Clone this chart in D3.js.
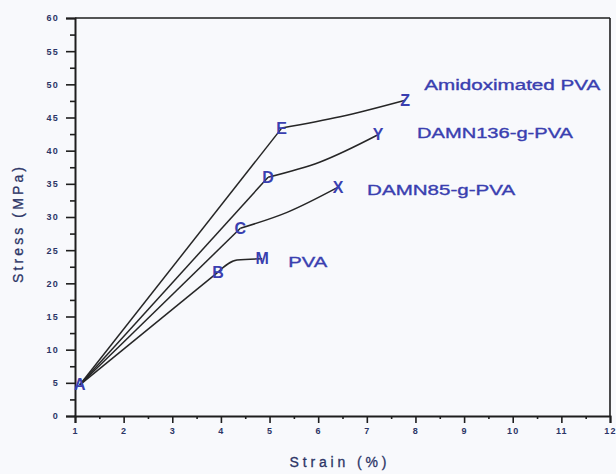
<!DOCTYPE html>
<html><head><meta charset="utf-8">
<script src="https://cdn.jsdelivr.net/npm/d3@7"></script>
<style>
html,body{margin:0;padding:0;background:#f8f9fc;}
svg{display:block;font-family:"Liberation Sans",Arial,sans-serif;}
</style></head>
<body>
<svg id="chart" width="616" height="474"></svg>
<script>
// ---- data ----
const seriesNames = ["PVA", "DAMN85-g-PVA", "DAMN136-g-PVA", "Amidoximated PVA"];
const pvaStrain      = [1.1, 3.94, 4.33, 4.85];
const pvaStress      = [4.7, 21.7, 23.5, 23.7];
const pvaPoints      = ["A", "B", "", "M"];
const damn85Strain   = [1.1, 4.40, 5.36, 6.41];
const damn85Stress   = [4.7, 28.3, 30.7, 34.5];
const damn85Points   = ["", "C", "", "X"];
const damn136Strain  = [1.1, 4.97, 6.04, 7.23];
const damn136Stress  = [4.7, 36.0, 38.3, 42.4];
const damn136Points  = ["", "D", "", "Y"];
const amidoxStrain   = [1.1, 5.25, 6.45, 7.79];
const amidoxStress   = [4.7, 43.4, 45.1, 47.6];
const amidoxPoints   = ["", "E", "", "Z"];
const xTicks = [1,2,3,4,5,6,7,8,9,10,11,12];
const yTicks = [0,5,10,15,20,25,30,35,40,45,50,55,60];
const xTitle = "Strain  (%)";
const yTitle = "Stress (MPa)";

const series = [
  {name: seriesNames[0], x: pvaStrain, y: pvaStress, p: pvaPoints, lab: {dx: 26, dy: 3, w: 39}},
  {name: seriesNames[1], x: damn85Strain, y: damn85Stress, p: damn85Points, lab: {dx: 29, dy: 3, w: 148}},
  {name: seriesNames[2], x: damn136Strain, y: damn136Stress, p: damn136Points, lab: {dx: 39, dy: -2, w: 156}},
  {name: seriesNames[3], x: amidoxStrain, y: amidoxStress, p: amidoxPoints, lab: {dx: 19, dy: -15, w: 176}}
];

const svg = d3.select("#chart");
const L = 75, R = 610, T = 18, B = 416;
const x = d3.scaleLinear().domain([1, 12]).range([L, R]);
const y = d3.scaleLinear().domain([0, 60]).range([B, T]);

const axisColor = "#1e1e1e";
const tickText = "#2c3566";
const blue = "#3a3fb0";

// frame top and right
svg.append("line").attr("x1", L).attr("x2", R).attr("y1", T).attr("y2", T)
  .attr("stroke", axisColor).attr("stroke-width", 1.6);
svg.append("line").attr("x1", R).attr("x2", R).attr("y1", T).attr("y2", B)
  .attr("stroke", axisColor).attr("stroke-width", 1.6);

// y axis
const yAxis = d3.axisLeft(y).tickValues(yTicks).tickSize(9).tickPadding(7).tickFormat(d3.format("d"));
const gy = svg.append("g").attr("transform", `translate(${L},0)`).call(yAxis);
gy.select(".domain").attr("stroke", axisColor).attr("stroke-width", 2);
gy.selectAll(".tick line").attr("stroke", axisColor).attr("stroke-width", 1.6);
gy.selectAll(".tick text").attr("fill", tickText).attr("font-size", 9).attr("font-weight", "bold")
  .attr("letter-spacing", 1.2);
const yMinor = d3.axisLeft(y).tickValues(d3.range(2.5, 60, 5)).tickSize(5).tickFormat("");
const gym = svg.append("g").attr("transform", `translate(${L},0)`).call(yMinor);
gym.select(".domain").remove();
gym.selectAll(".tick line").attr("stroke", axisColor).attr("stroke-width", 1.6);

// x axis
const xAxis = d3.axisBottom(x).tickValues(xTicks).tickSize(7).tickPadding(5).tickFormat(d3.format("d"));
const gx = svg.append("g").attr("transform", `translate(0,${B})`).call(xAxis);
gx.select(".domain").attr("stroke", axisColor).attr("stroke-width", 2);
gx.selectAll(".tick line").attr("stroke", axisColor).attr("stroke-width", 1.6);
gx.selectAll(".tick text").attr("fill", tickText).attr("font-size", 9).attr("font-weight", "bold")
  .attr("letter-spacing", 1.2);
const xMinor = d3.axisBottom(x).tickValues(d3.range(1.5, 12, 1)).tickSize(3).tickFormat("");
const gxm = svg.append("g").attr("transform", `translate(0,${B})`).call(xMinor);
gxm.select(".domain").remove();
gxm.selectAll(".tick line").attr("stroke", axisColor).attr("stroke-width", 1.6);

// axis titles
svg.append("text").attr("x", 338).attr("y", 467).attr("text-anchor", "middle")
  .attr("font-size", 14).attr("fill", tickText).attr("stroke", tickText).attr("stroke-width", 0.3)
  .attr("textLength", 97).attr("lengthAdjust", "spacing")
  .text(xTitle);
svg.append("text").attr("transform", "translate(23,225) rotate(-90)").attr("text-anchor", "middle")
  .attr("font-size", 14).attr("fill", tickText).attr("stroke", tickText).attr("stroke-width", 0.3)
  .attr("textLength", 116).attr("lengthAdjust", "spacing")
  .text(yTitle);

// lines: straight elastic part from A to the yield letter, then a smooth curve to the end
const straight = d3.line().x(d => x(d[0])).y(d => y(d[1]));
const curved = d3.line().x(d => x(d[0])).y(d => y(d[1])).curve(d3.curveMonotoneX);
series.forEach(s => {
  const pts = s.x.map((v, i) => [v, s.y[i]]);
  svg.append("path").attr("d", straight(pts.slice(0, 2))).attr("fill", "none")
    .attr("stroke", "#262626").attr("stroke-width", 1.5);
  svg.append("path").attr("d", curved(pts.slice(1))).attr("fill", "none")
    .attr("stroke", "#262626").attr("stroke-width", 1.5);
});

// point letters
series.forEach(s => {
  s.x.forEach((v, i) => {
    if (!s.p[i]) return;
    svg.append("text").attr("x", x(v)).attr("y", y(s.y[i]) + 5.5)
      .attr("text-anchor", "middle").attr("font-size", 16).attr("font-weight", "bold")
      .attr("fill", blue).text(s.p[i]);
  });
});

// series labels
series.forEach(s => {
  const n = s.x.length - 1;
  svg.append("text").attr("x", x(s.x[n]) + s.lab.dx).attr("y", y(s.y[n]) + s.lab.dy + 5)
    .attr("font-size", 14).attr("fill", blue).attr("stroke", blue).attr("stroke-width", 0.35)
    .attr("textLength", s.lab.w).attr("lengthAdjust", "spacingAndGlyphs")
    .text(s.name);
});
</script>
</body></html>
